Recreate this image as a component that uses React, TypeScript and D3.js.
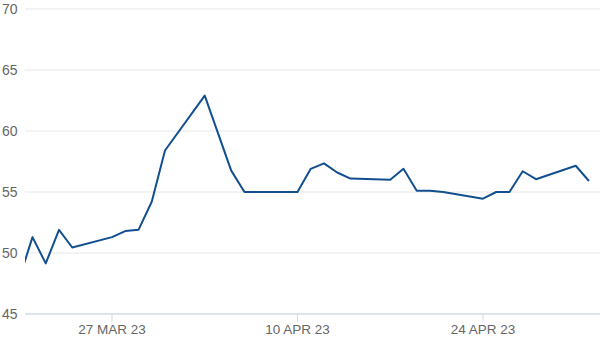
import React from "react";
import * as d3 from "d3";

const dates: string[] = [
  "2023-03-20", "2023-03-21", "2023-03-22", "2023-03-23", "2023-03-24",
  "2023-03-27", "2023-03-28", "2023-03-29", "2023-03-30", "2023-03-31",
  "2023-04-03", "2023-04-05", "2023-04-06", "2023-04-10", "2023-04-11",
  "2023-04-12", "2023-04-13", "2023-04-14", "2023-04-17", "2023-04-18",
  "2023-04-19", "2023-04-20", "2023-04-21", "2023-04-24", "2023-04-25",
  "2023-04-26", "2023-04-27", "2023-04-28", "2023-05-01", "2023-05-02",
];
const values: number[] = [
  47.9, 51.3, 49.15, 51.9, 50.45,
  51.3, 51.8, 51.9, 54.2, 58.4,
  62.9, 56.75, 55.0, 55.0, 56.9,
  57.35, 56.6, 56.1, 56.0, 56.9,
  55.1, 55.1, 55.0, 54.45, 55.0,
  55.0, 56.7, 56.05, 57.15, 55.9,
];
const yTicks: number[] = [45, 50, 55, 60, 65, 70];
const xTickDates: string[] = ["2023-03-27", "2023-04-10", "2023-04-24"];
const xTickLabels: string[] = ["27 MAR 23", "10 APR 23", "24 APR 23"];
const xDomain: string[] = ["2023-03-20T10:25:00Z", "2023-05-02T20:00:00Z"];

const W = 600;
const H = 359;
const M = { left: 25, right: 0, top: 9, bottom: 45 };

export default function App() {
  const data = dates.map((d, i) => ({ date: new Date(d + "T00:00:00Z"), value: values[i] }));
  const x = d3
    .scaleUtc()
    .domain(xDomain.map((d) => new Date(d)))
    .range([M.left, W - M.right]);
  const y = d3.scaleLinear().domain([45, 70]).range([H - M.bottom, M.top]);
  const line = d3
    .line<{ date: Date; value: number }>()
    .x((d) => x(d.date))
    .y((d) => y(d.value));
  const font = "'Liberation Sans', Arial, sans-serif";
  return (
    <svg
      width={W}
      height={H}
      style={{ position: "absolute", left: 0, top: 0, background: "#fff" }}
    >
      <defs>
        <clipPath id="plot">
          <rect x={M.left} y={0} width={W - M.left - M.right} height={H} />
        </clipPath>
      </defs>
      {yTicks.map((t) => (
        <g key={t}>
          {t !== 45 && (
            <line x1={M.left} x2={W - M.right} y1={y(t)} y2={y(t)} stroke="#e6e6e6" strokeWidth={1} />
          )}
          <text
            x={2}
            y={y(t)}
            dy="0.36em"
            fontFamily={font}
            fontSize={14}
            fill="#666"
          >
            {t}
          </text>
        </g>
      ))}
      <line
        x1={M.left}
        x2={W - M.right}
        y1={y(45)}
        y2={y(45)}
        stroke="#d5dae6"
        strokeWidth={1.5}
      />
      {xTickDates.map((d, i) => {
        const xx = x(new Date(d + "T00:00:00Z"));
        return (
          <g key={d}>
            <line x1={xx} x2={xx} y1={y(45)} y2={y(45) + 8} stroke="#d5dae6" strokeWidth={1} />
            <text
              x={xx}
              y={y(45) + 20}
              textAnchor="middle"
              fontFamily={font}
              fontSize={13.5}
              fill="#666"
            >
              {xTickLabels[i]}
            </text>
          </g>
        );
      })}
      <path
        d={line(data) ?? ""}
        fill="none"
        stroke="#134f8f"
        strokeWidth={2}
        strokeLinejoin="round"
        clipPath="url(#plot)"
      />
    </svg>
  );
}
